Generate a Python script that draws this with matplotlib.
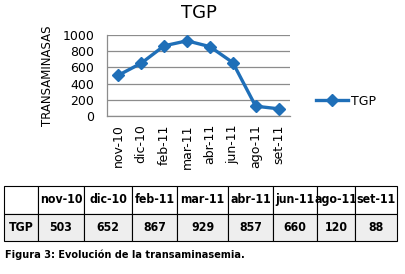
import matplotlib

matplotlib.use("Agg")
import matplotlib.pyplot as plt

MONTHS = ["nov-10", "dic-10", "feb-11", "mar-11", "abr-11", "jun-11", "ago-11", "set-11"]
TGP = [503, 652, 867, 929, 857, 660, 120, 88]
YTICKS = [0, 200, 400, 600, 800, 1000]

BLUE = "#1f6fb8"

fig = plt.figure(figsize=(4.05, 2.74), dpi=100)
fig.patch.set_facecolor("white")

# --- line chart -----------------------------------------------------------
ax = fig.add_axes([0.264, 0.577, 0.452, 0.295])
x = range(len(MONTHS))
ax.plot(x, TGP, "-D", color=BLUE, lw=2.4, ms=6, label="TGP")
ax.set_xlim(-0.5, len(MONTHS) - 0.5)
ax.set_ylim(0, 1000)
ax.set_yticks(YTICKS)
ax.set_yticklabels([str(v) for v in YTICKS], fontsize=9)
ax.set_xticks(list(x))
ax.set_xticklabels(MONTHS, rotation=90, fontsize=9)
ax.tick_params(axis="y", length=0, pad=9)
ax.tick_params(axis="x", length=0, pad=6)
ax.grid(axis="y", color="#8c8c8c", lw=0.9)
ax.set_axisbelow(True)
for s in ["top", "right"]:
    ax.spines[s].set_visible(False)
for s in ["left", "bottom"]:
    ax.spines[s].set_color("#8c8c8c")
    ax.spines[s].set_linewidth(0.9)
ax.set_ylabel("TRANSAMINASAS", fontsize=8.5, labelpad=6)
ax.set_title("TGP", fontsize=13, pad=12)
ax.legend(loc="center left", bbox_to_anchor=(1.08, 0.18), frameon=False,
          fontsize=9, handlelength=2.6, handletextpad=0.2)

# --- data table -----------------------------------------------------------
tax = fig.add_axes([4 / 405, 1 - 241 / 274, 393 / 405, 55 / 274])
tax.axis("off")
widths = [34, 46, 48, 45, 51, 45, 44, 38, 42]
total = sum(widths)
cells = [[""] + MONTHS, ["TGP"] + [str(v) for v in TGP]]
colors = [["white"] * 9, ["#eeeeee"] * 9]
tbl = tax.table(cellText=cells, cellColours=colors, colWidths=[w / total for w in widths],
                cellLoc="center", bbox=[0, 0, 1, 1])
tbl.auto_set_font_size(False)
for (r, c), cell in tbl.get_celld().items():
    cell.set_edgecolor("black")
    cell.set_linewidth(0.8)
    cell.get_text().set_fontsize(8.8)
    cell.get_text().set_fontweight("bold")
    cell.get_text().set_fontstretch("condensed")

fig.text(5 / 405, 1 - 255 / 274, "Figura 3: Evolución de la transaminasemia.",
         fontsize=7.8, fontweight="bold", fontstretch="condensed", va="center", ha="left")

fig.savefig("out.png", dpi=100)
